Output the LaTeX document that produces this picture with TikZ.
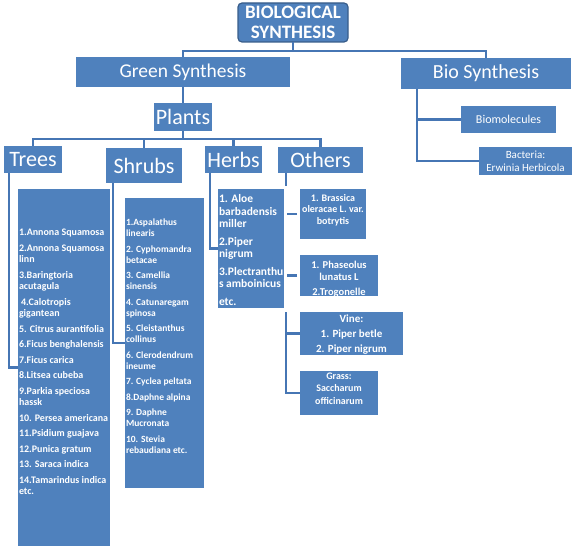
\documentclass[tikz,border=0pt]{standalone}
\usepackage{fontspec}
\setmainfont{Carlito}
\definecolor{boxblue}{HTML}{4F81BD}
\definecolor{lineblue}{HTML}{4676B4}
\definecolor{edgeblue}{HTML}{385D8A}
% text blocks inside the list boxes: width, height, top gap, text
\newcommand{\leftlist}[4]{\parbox[c][#2][t]{#1}{\vspace*{#3}\raggedright\leftskip=1pt\rightskip=-20pt plus 1fil\relax #4}}
\newcommand{\midlist}[4]{\parbox[c][#2][t]{#1}{\vspace*{#3}\centering #4}}

\begin{document}
\begin{tikzpicture}[
      x=1pt, y=-1pt,
      box/.style={rectangle, fill=boxblue, text=white, inner sep=0pt, outer sep=0pt},
      head/.style={box, font=\fontsize{22}{26}\selectfont},
      line/.style={draw=lineblue, line width=2.8pt}
    ]
    \useasboundingbox (0,0) rectangle (580,548);
    % Nodes
    \node [box, draw=edgeblue, line width=1.2pt, rounded corners=4pt, minimum width=110pt, minimum height=39pt, align=center, font=\fontsize{19}{20.5}\selectfont\bfseries] (title) at (293,22.5) {BIOLOGICAL\\SYNTHESIS};
    \node [box, minimum width=214pt, minimum height=30pt, font=\fontsize{19.5}{23}\selectfont] (green) at (183,72) {Green Synthesis};
    \node [box, minimum width=170pt, minimum height=31pt, font=\fontsize{20}{24}\selectfont] (bio) at (486,73.5) {Bio Synthesis};
    \node [head, minimum width=58pt, minimum height=28pt] (plants) at (183,117) {Plants};
    \node [head, minimum width=58pt, minimum height=27pt] (trees) at (33,159.5) {Trees};
    \node [head, minimum width=76pt, minimum height=35pt] (shrubs) at (144,165.5) {Shrubs};
    \node [head, minimum width=57pt, minimum height=27pt] (herbs) at (233.5,159.5) {Herbs};
    \node [head, minimum width=85pt, minimum height=26pt] (others) at (320.5,160) {Others};
    \node [box, minimum width=95pt, minimum height=27pt, font=\fontsize{12}{14}\selectfont] (biomol) at (508.5,119.5) {Biomolecules};
    \node [box, minimum width=93pt, minimum height=28pt, align=center, font=\fontsize{11}{13}\selectfont] (bacteria) at (525.5,161) {Bacteria:\\Erwinia Herbicola};
    \node [box] (treelist) at (64,367.5) {\leftlist{92pt}{357pt}{40pt}{\fontsize{10}{11.5}\selectfont\bfseries
      1.Annona Squamosa\\[4pt]
      2.Annona Squamosa\\linn\\[4pt]
      3.Baringtoria\\acutagula\\[4pt]
      \hspace*{2pt}4.Calotropis\\gigantean\\[4pt]
      5. Citrus aurantifolia\\[4pt]
      6.Ficus benghalensis\\[4pt]
      7.Ficus carica\\[4pt]
      8.Litsea cubeba\\[4pt]
      9.Parkia speciosa\\hassk\\[4pt]
      10. Persea americana\\[4pt]
      11.Psidium guajava\\[4pt]
      12.Punica gratum\\[4pt]
      13. Saraca indica\\[4pt]
      14.Tamarindus indica\\etc.}};
    \node [box] (shrublist) at (164.5,343) {\leftlist{79pt}{290pt}{21pt}{\fontsize{9.5}{11}\selectfont\bfseries
      1.Aspalathus\\linearis\\[4.5pt]
      2. Cyphomandra\\betacae\\[4.5pt]
      3. Camellia\\sinensis\\[4.5pt]
      4. Catunaregam\\spinosa\\[4.5pt]
      5. Cleistanthus\\collinus\\[4.5pt]
      6. Clerodendrum\\ineume\\[4.5pt]
      7. Cyclea peltata\\[4.5pt]
      8.Daphne alpina\\[4.5pt]
      9. Daphne\\Mucronata\\[4.5pt]
      10. Stevia\\rebaudiana etc.}};
    \node [box] (herblist) at (251,248.5) {\leftlist{66pt}{119pt}{5.5pt}{\fontsize{11.5}{12.5}\selectfont\bfseries
      1. Aloe\\barbadensis\\miller\\[5pt]
      2.Piper\\nigrum\\[5pt]
      3.Plectranthu\\s amboinicus\\[5pt]
      etc.}};
    \node [box] (brassica) at (333,214) {\midlist{66pt}{50pt}{5pt}{\fontsize{10}{11.5}\selectfont\bfseries
      1. Brassica\\oleracae L. var.\\botrytis}};
    \node [box] (phaseolus) at (339,275.5) {\midlist{78pt}{41pt}{6pt}{\fontsize{10.5}{12}\selectfont\bfseries
      1. Phaseolus\\lunatus L\\[3pt]2.Trogonelle}};
    \node [box] (vine) at (351.5,333.5) {\midlist{103pt}{43pt}{3pt}{\fontsize{11}{15}\selectfont\bfseries
      Vine:\\1. Piper betle\\2. Piper nigrum}};
    \node [box] (grass) at (339,393) {\midlist{78pt}{44pt}{1.5pt}{\fontsize{10}{12.5}\selectfont\bfseries
      Grass:\\Saccharum\\officinarum}};
    % Lines
    \draw [line] (title.south) -- ++(0,9);
    \draw [line] (green.north) -- ++(0,-6) -| (bio.north);
    \draw [line] (green.south) -- (plants.north);
    \draw [line] (plants.south) -- ++(0,8);
    \draw [line] (trees.north) -- ++(0,-7) -| (others.north);
    \draw [line] (shrubs.north) -- ++(0,-9);
    \draw [line] (herbs.north) -- ++(0,-7);
    \draw [line] ([xshift=5pt]trees.south west) |- (treelist.west);
    \draw [line] ([xshift=7pt]shrubs.south west) |- (shrublist.west);
    \draw [line] ([xshift=5pt]herbs.south west) |- (herblist.west);
    \draw [line] ([xshift=8pt]others.south west) -- ++(0,13);
    \draw [line] ([xshift=-3pt]brassica.west) -- ++(-10,0);
    \draw [line] ([xshift=-3pt]phaseolus.west) -- ++(-10,0);
    \draw [line] ([xshift=-14pt]vine.north west) |- (grass.west);
    \draw [line] (vine.west) -- ++(-14,0);
    \draw [line] ([xshift=16pt]bio.south west) |- (biomol.west);
    \draw [line] ([xshift=16pt]bio.south west) |- (bacteria.west);
  \end{tikzpicture}
\end{document}
